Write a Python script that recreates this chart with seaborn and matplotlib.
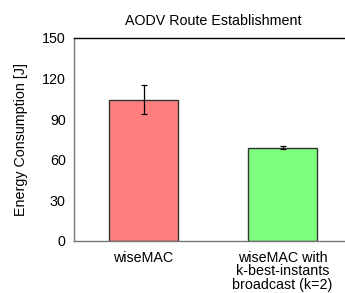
import matplotlib
matplotlib.use("Agg")
import matplotlib.pyplot as plt
import seaborn as sns
import pandas as pd

# values
labels = ["wiseMAC", "wiseMAC with\nk-best-instants\nbroadcast (k=2)"]
energy = [104.3, 69.0]
energy_err = [10.7, 1.0]
bar_colors = ["#ff7f7f", "#7fff7f"]

sns.set_style("white")
plt.rcParams["font.family"] = ["Liberation Sans", "DejaVu Sans"]
plt.rcParams["font.size"] = 10.3
plt.rcParams["text.color"] = "black"
plt.rcParams["axes.labelcolor"] = "black"
plt.rcParams["xtick.color"] = "black"
plt.rcParams["ytick.color"] = "black"

df = pd.DataFrame({"config": labels, "energy": energy})

fig = plt.figure(figsize=(3.45, 2.93), dpi=100)
ax = fig.add_axes([0.2145, 0.1775, 0.806, 0.693])

sns.barplot(data=df, x="config", y="energy", hue="config", palette=bar_colors,
            width=0.5, edgecolor="#333333", linewidth=1.0, saturation=1,
            legend=False, ax=ax)
ax.errorbar(range(len(energy)), energy, yerr=energy_err, fmt="none",
            ecolor="black", elinewidth=0.9, capsize=2.5, capthick=0.9)

ax.set_xlim(-0.5, 1.5)
ax.set_ylim(0, 150)
ax.set_yticks([0, 30, 60, 90, 120, 150])
ax.set_title("AODV Route Establishment", fontsize=10.3, pad=9)
ax.set_xlabel("")
ax.set_ylabel("Energy Consumption [J]", fontsize=10.3, labelpad=10)

for side in ["left", "bottom"]:
    ax.spines[side].set_color("#777777")
    ax.spines[side].set_linewidth(1.0)
ax.spines["top"].set_color("black")
ax.spines["top"].set_linewidth(1.0)
ax.spines["right"].set_visible(False)

ax.tick_params(axis="y", direction="in", length=3, color="#555555",
               labelsize=10.3, pad=6)
ax.tick_params(axis="x", direction="out", length=4, color="#555555",
               labelsize=10.3, pad=3)
for lbl in ax.get_xticklabels():
    lbl.set_linespacing(0.95)

fig.savefig("out.png", dpi=100)
